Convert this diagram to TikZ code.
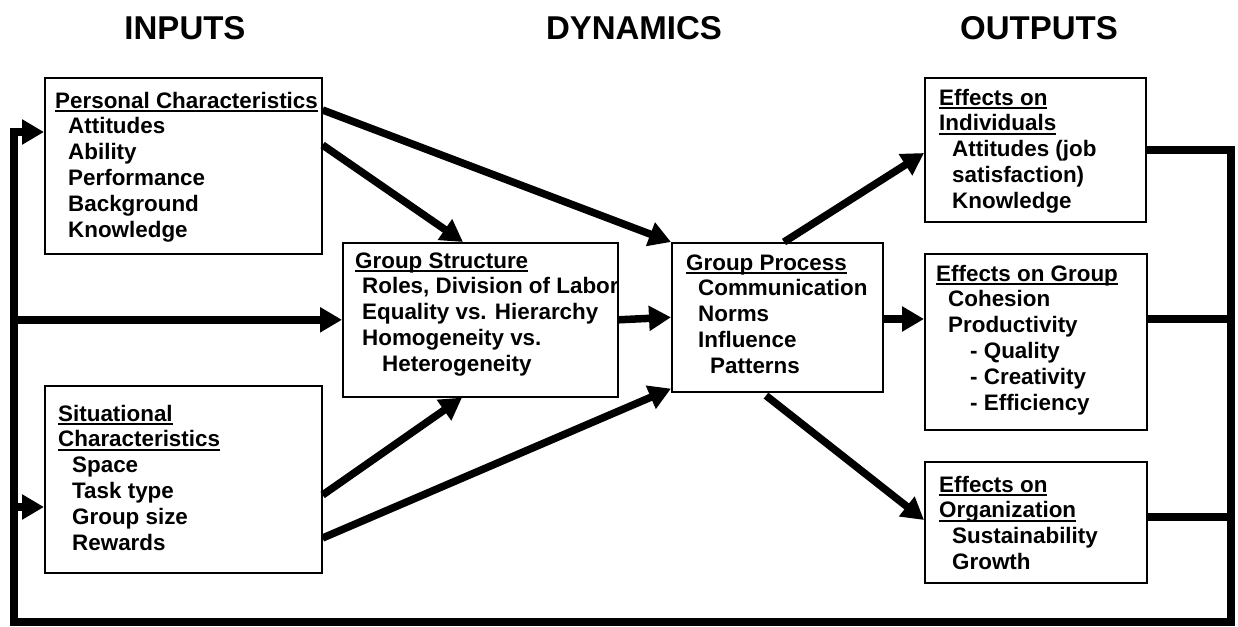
\documentclass[tikz,border=0pt]{standalone}
\usepackage{fontspec}
\setmainfont{Liberation Sans}
\usetikzlibrary{arrows.meta,calc}
\newcommand{\ulin}[1]{\setbox0\hbox{#1}\rlap{\rule[-4pt]{\wd0}{2.2pt}}\box0}
\newcommand{\ind}[1]{\hspace*{#1pt}}
\tikzset{
  box/.style={draw=black, line width=1.6pt, anchor=north west, inner sep=0pt},
  txt/.style={anchor=base west, align=left, inner sep=0pt,
    font=\fontsize{22.4}{25.8}\selectfont\bfseries},
  hdr/.style={anchor=base, inner sep=0pt, font=\fontsize{33}{36}\selectfont\bfseries},
  arr/.style={line width=7.5pt, -{Triangle[length=22pt,width=24pt]}},
  fbline/.style={line width=7.5pt, line join=miter},
}
\begin{document}
\begin{tikzpicture}[x=1pt,y=-1pt]
\useasboundingbox (0,0) rectangle (1238,626);
% headers
\node[hdr] (h1) at (185,40) {INPUTS};
\node[hdr] (h2) at (634,40) {DYNAMICS};
\node[hdr] (h3) at (1039,40) {OUTPUTS};
% boxes
\node[box, minimum width=277pt, minimum height=176pt] (pc) at (44,77) {};
\node[box, minimum width=277pt, minimum height=187pt] (sc) at (44,385) {};
\node[box, minimum width=275pt, minimum height=154pt] (gs) at (342,242) {};
\node[box, minimum width=211pt, minimum height=149pt] (gp) at (671,242) {};
\node[box, minimum width=221pt, minimum height=144pt] (eoi) at (924,77) {};
\node[box, minimum width=222pt, minimum height=176pt] (eog) at (924,253) {};
\node[box, minimum width=222pt, minimum height=121pt] (eor) at (924,461) {};
% texts (anchored at the baseline of the last line)
\node[txt] (pct) at (55,{108+5*25.8}) {\ulin{Personal Characteristics}\\\ind{13}Attitudes\\\ind{13}Ability\\\ind{13}Performance\\\ind{13}Background\\\ind{13}Knowledge};
\node[txt] (sct) at (58,{421+5*25.8}) {\ulin{Situational}\\\ulin{Characteristics}\\\ind{14}Space\\\ind{14}Task type\\\ind{14}Group size\\\ind{14}Rewards};
\node[txt] (gst) at (355,{268+4*25.8}) {\ulin{Group Structure}\\\ind{7}Roles, Division of Labor\\\ind{7}Equality vs. Hierarchy\\\ind{7}Homogeneity vs.\\\ind{27}Heterogeneity};
\node[txt] (gpt) at (686,{270+4*25.8}) {\ulin{Group Process}\\\ind{12}Communication\\\ind{12}Norms\\\ind{12}Influence\\\ind{24}Patterns};
\node[txt] (eoit) at (939,{105+4*25.8}) {\ulin{Effects on}\\\ulin{Individuals}\\\ind{13}Attitudes (job\\\ind{13}satisfaction)\\\ind{13}Knowledge};
\node[txt] (eogt) at (936,{281+5*25.8}) {\ulin{Effects on Group}\\\ind{12}Cohesion\\\ind{12}Productivity\\\ind{34}- Quality\\\ind{34}- Creativity\\\ind{34}- Efficiency};
\node[txt] (eort) at (939,{492+3*25.8}) {\ulin{Effects on}\\\ulin{Organization}\\\ind{13}Sustainability\\\ind{13}Growth};
% coordinates
\coordinate (fr) at (1231,622);
\coordinate (fl) at (14,622);
\coordinate (r2) at (1231,319);
\coordinate (r3) at (1231,517);
\coordinate (pcin) at ($(pc.north west)+(0,55)$);
\coordinate (scin) at ($(sc.north west)+(0,122)$);
% arrows inputs -> dynamics
\draw[arr] ($(pc.north east)+(0,33)$) -- (gp.north west);
\draw[arr] ($(pc.north east)+(0,68)$) -- ($(gs.north west)+(121,0)$);
\draw[arr] ($(sc.north east)+(0,110)$) -- ($(gs.south west)+(120,0)$);
\draw[arr] ($(sc.north east)+(0,153)$) -- ($(gp.south west)+(0,-4)$);
\draw[arr] (gs.east) -- (gp.west);
% dynamics -> outputs
\draw[arr] ($(gp.north west)+(113,0)$) -- ($(eoi.north west)+(0,76)$);
\draw[arr] (gp.east |- r2) -- (eog.west |- r2);
\draw[arr] ($(gp.south west)+(95,3)$) -- ($(eor.north west)+(0,59)$);
% feedback
\draw[fbline, -{Triangle[length=22pt,width=24pt]}] (eoi.east) -| (fr) -- (fl) |- (pcin);
\draw[fbline] (eog.east |- r2) -- (r2);
\draw[fbline] (eor.east |- r3) -- (r3);
\draw[arr] (fl |- gs.west) -- (gs.west);
\draw[arr] (fl |- scin) -- (scin);
\end{tikzpicture}
\end{document}
